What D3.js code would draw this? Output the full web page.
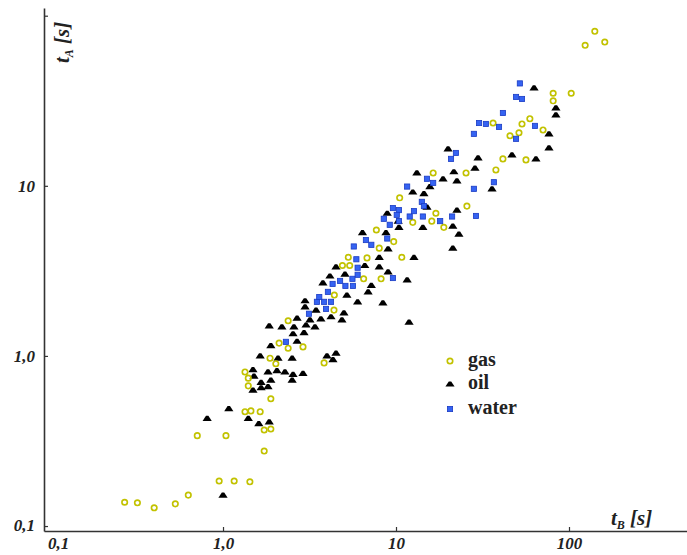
<!DOCTYPE html>
<html>
<head>
<meta charset="utf-8">
<script src="https://cdn.jsdelivr.net/npm/d3@7"></script>
<style>
  body { margin: 0; background: #fff; }
  svg { display: block; }
</style>
</head>
<body>
<svg id="chart" width="687" height="555"></svg>
<script>
// data: [tB, tA] in seconds
const gas = [
  [0.27,0.138],[0.32,0.137],[0.40,0.128],[0.53,0.135],[0.63,0.152],[0.95,0.184],[1.16,0.184],[1.43,0.182],
  [0.71,0.34],[1.04,0.34],[1.73,0.276],[1.73,0.367],[1.89,0.372],[1.34,0.47],[1.45,0.475],[1.64,0.47],
  [1.89,0.56],[1.34,0.805],[1.40,0.74],[1.40,0.667],[1.87,0.97],[2.02,0.90],[2.11,1.19],[2.38,1.11],
  [4.38,1.86],[2.38,1.61],[2.90,1.13],[3.84,0.91],[16.4,11.9],[10.5,8.5],[17.0,6.9],[25.7,7.6],
  [12.5,6.1],[16.1,6.2],[18.9,5.7],[7.7,5.5],[9.7,4.7],[8.0,4.3],[10.8,3.8],[5.3,3.8],
  [6.8,3.77],[4.9,3.4],[5.4,3.4],[6.5,2.84],[8.2,2.84],[4.4,2.28],[141,81],[124,67],
  [161,70],[81,35],[103,35],[81,31.6],[36.4,23.4],[53.5,23.1],[59.4,24.8],[45.6,19.7],
  [51.4,20.5],[70.8,21.3],[41.5,14.4],[56.4,14.2],[37.8,12.4],[25.4,11.9]
];
const oil = [
  [1.89,1.15],[1.64,1.0],[2.08,0.97],[2.51,0.97],[1.49,0.83],[1.82,0.805],[2.05,0.82],[2.28,0.805],
  [2.54,0.78],[1.51,0.76],[1.66,0.70],[1.89,0.72],[2.51,0.72],[1.49,0.63],[1.66,0.65],[1.82,0.66],
  [1.08,0.49],[0.81,0.43],[1.40,0.43],[1.61,0.40],[1.85,0.41],[1.0,0.152],[6.0,2.08],[8.4,2.05],
  [2.98,2.11],[2.98,1.94],[3.45,1.86],[5.0,1.79],[2.68,1.67],[3.18,1.63],[3.68,1.65],[4.21,1.70],
  [4.87,1.63],[1.85,1.50],[2.19,1.48],[2.57,1.48],[3.02,1.52],[3.40,1.48],[2.54,1.35],[2.94,1.37],
  [2.68,1.22],[3.99,1.0],[4.5,1.04],[4.32,0.95],[2.90,0.79],[20.0,16.5],[13.2,11.9],[18.7,11.0],
  [12.5,9.2],[14.5,9.0],[15.7,9.9],[15.1,7.5],[8.9,6.9],[22.5,7.2],[10.3,6.2],[10.4,5.7],
  [14.3,5.7],[21.3,5.8],[23.1,5.2],[8.75,5.3],[6.4,5.3],[9.0,4.26],[8.0,3.8],[12.7,3.8],
  [21.3,4.3],[6.6,3.4],[8.0,3.34],[9.0,3.12],[4.5,3.34],[4.15,2.95],[5.07,3.03],[3.78,2.69],
  [7.2,2.6],[11.6,2.8],[6.9,2.38],[5.2,2.28],[62.8,37.7],[84,28.7],[84,26.1],[76.6,20.2],
  [76.6,16.7],[46.8,15.2],[64.4,14.4],[29.8,14.6],[28.6,12.7],[21.6,12.1],[22.5,10.7],[35.9,9.6],
  [11.9,1.58]
];
const water = [
  [2.31,1.21],[3.49,2.08],[3.84,2.08],[4.21,2.08],[3.94,1.89],[3.14,1.77],[4.04,2.38],[15.1,11.0],
  [16.4,10.4],[11.6,9.9],[14.1,8.05],[14.5,7.6],[9.6,7.4],[10.4,7.2],[10.1,6.75],[8.5,6.4],
  [9.2,5.9],[10.4,6.2],[12.0,6.6],[12.7,7.1],[14.3,6.6],[18.0,6.2],[21.1,6.6],[29.0,6.65],
  [6.7,4.8],[7.2,4.5],[8.9,4.9],[5.7,4.4],[5.9,3.7],[6.0,3.3],[6.0,3.0],[5.6,2.84],
  [4.75,2.76],[4.3,2.65],[5.1,2.58],[5.64,2.58],[9.6,2.87],[3.6,2.22],[52,40],[49.4,33.3],
  [53.5,32.4],[41.5,26.8],[30.2,23.4],[33.1,23.1],[39.4,22.2],[28.2,20.2],[63.6,22.5],[49.4,18.9],
  [22.2,15.6],[20.8,14.4],[36.8,10.5],[28.2,9.6]
];
const xTicks = [0.1, 1, 10, 100];
const xTickLabels = ["0,1", "1,0", "10", "100"];
const yTicks = [0.1, 1, 10, 100];
const yTickLabels = ["0,1", "1,0", "10", ""];
const legendNames = ["gas", "oil", "water"];

const svg = d3.select("#chart");
const serif = "'Liberation Serif', 'Times New Roman', serif";

const x = d3.scaleLog().domain([0.0923, 481]).range([44, 687]);
const y = d3.scaleLog().domain([0.0935, 111]).range([531, 8]);

// axes
const xAxis = d3.axisBottom(x)
    .tickValues(xTicks)
    .tickFormat((d, i) => xTickLabels[i])
    .tickSizeInner(-4).tickSizeOuter(0).tickPadding(6);
const yAxis = d3.axisLeft(y)
    .tickValues(yTicks)
    .tickFormat((d, i) => yTickLabels[i])
    .tickSizeInner(-4).tickSizeOuter(0).tickPadding(9);

const gx = svg.append("g").attr("transform", "translate(0," + y.range()[0] + ")").call(xAxis);
const gy = svg.append("g").attr("transform", "translate(" + x.range()[0] + ",0)").call(yAxis);

[gx, gy].forEach(function (g) {
    g.select(".domain").attr("stroke", "#333").attr("stroke-width", 1.6);
    g.selectAll(".tick line").attr("stroke", "#333").attr("stroke-width", 1.2);
    g.selectAll(".tick text")
        .attr("font-family", serif)
        .attr("font-size", 17)
        .attr("font-weight", "bold")
        .attr("font-style", "italic")
        .attr("fill", "#222");
});
// no tick mark at 0,1 on the x axis, its label sits a bit right
gx.selectAll(".tick").filter(d => d === 0.1).select("line").remove();
gx.selectAll(".tick").filter(d => d === 0.1).select("text").attr("dx", 8);
gy.selectAll(".tick").filter(d => d === 0.1).select("text").attr("dy", "0.25em");

// axis titles
const xt = svg.append("text")
    .attr("x", 611).attr("y", 525)
    .attr("font-family", serif).attr("font-weight", "bold").attr("font-style", "italic")
    .attr("font-size", 21).attr("fill", "#222");
xt.append("tspan").text("t");
xt.append("tspan").attr("font-size", 12).attr("dy", 4).text("B");
xt.append("tspan").attr("dy", -4).text(" [s]");

const yt = svg.append("text")
    .attr("transform", "translate(69,63) rotate(-90)")
    .attr("font-family", serif).attr("font-weight", "bold").attr("font-style", "italic")
    .attr("font-size", 21).attr("fill", "#222");
yt.append("tspan").text("t");
yt.append("tspan").attr("font-size", 12).attr("dy", 4).text("A");
yt.append("tspan").attr("dy", -4).text(" [s]");

// markers
const tri = "M-4.6,2.6 L-1.2,-2.6 L1.2,-2.6 L4.6,2.6 Z";

function drawGas(sel) {
    sel.append("circle").attr("r", 2.7)
        .attr("fill", "none").attr("stroke", "#c2c200").attr("stroke-width", 1.7);
}
function drawOil(sel) {
    sel.append("path").attr("d", tri).attr("fill", "#000");
}
function drawWater(sel) {
    sel.append("rect").attr("x", -2.6).attr("y", -2.6).attr("width", 5.2).attr("height", 5.2)
        .attr("fill", "#3563f2").attr("stroke", "#1a3bc4").attr("stroke-width", 0.8);
}

svg.append("g").selectAll("g").data(oil).enter().append("g")
    .attr("transform", d => "translate(" + x(d[0]) + "," + y(d[1]) + ")")
    .call(drawOil);
svg.append("g").selectAll("g").data(gas).enter().append("g")
    .attr("transform", d => "translate(" + x(d[0]) + "," + y(d[1]) + ")")
    .call(drawGas);
svg.append("g").selectAll("g").data(water).enter().append("g")
    .attr("transform", d => "translate(" + x(d[0]) + "," + y(d[1]) + ")")
    .call(drawWater);

// legend
const legendY = [361, 384, 409];
const drawers = [drawGas, drawOil, drawWater];
const leg = svg.append("g").selectAll("g").data(legendNames).enter().append("g")
    .attr("transform", (d, i) => "translate(450," + legendY[i] + ")");
leg.each(function (d, i) { drawers[i](d3.select(this)); });
leg.append("text")
    .attr("x", 18).attr("y", 5)
    .attr("font-family", serif).attr("font-weight", "bold")
    .attr("font-size", 20).attr("fill", "#222")
    .text(d => d);
</script>
</body>
</html>
